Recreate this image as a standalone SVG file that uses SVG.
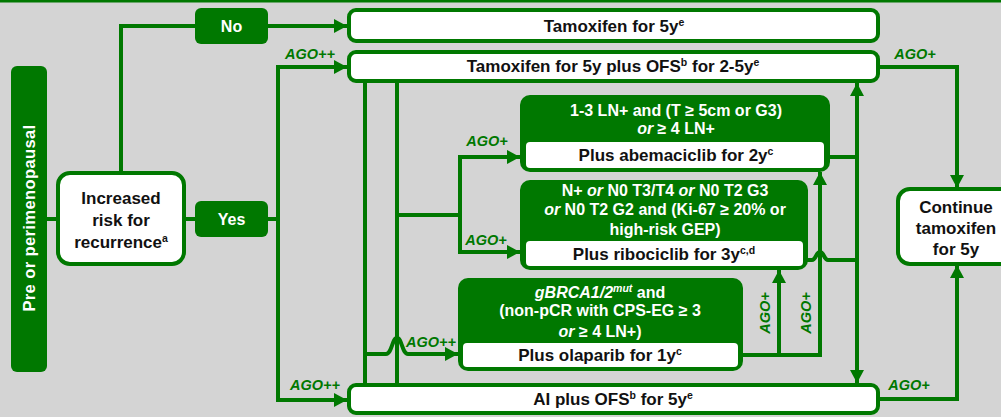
<svg xmlns="http://www.w3.org/2000/svg" width="1001" height="417" viewBox="0 0 1001 417">
<style>
.bg{fill:#d4d4d4}
.gbox{fill:#007800}
.wbox{fill:#ffffff;stroke:#007800;stroke-width:4}
.wi{fill:#ffffff}
.ln{fill:none;stroke:#007800;stroke-width:4;stroke-linejoin:miter}
.t{font-family:"Liberation Sans",Arial,sans-serif;font-weight:bold;font-size:16px;text-anchor:middle}
.tw{fill:#ffffff}
.tk{fill:#111111;font-size:17px}
.ago{font-family:"Liberation Sans",Arial,sans-serif;font-weight:bold;font-style:italic;font-size:14.5px;fill:#007800;text-anchor:middle}
.sup{font-size:10.5px}
.it{font-style:italic}
</style>
<defs>
<marker id="ah" markerUnits="userSpaceOnUse" markerWidth="14" markerHeight="14" refX="13" refY="7" orient="auto-start-reverse" viewBox="0 0 14 14">
<path d="M0,0 L13,7 L0,14 z" fill="#007800"/>
</marker>
</defs>
<rect class="bg" x="0" y="0" width="1001" height="417"/>
<rect x="0" y="0" width="1001" height="2.5" fill="#007800"/>

<g id="connectors">
<path class="ln" d="M47,219 H58"/>
<path class="ln" d="M121,173 V26 H195"/>
<path class="ln" d="M268,26 H347" marker-end="url(#ah)"/>
<path class="ln" d="M184,219 H195"/>
<path class="ln" d="M268,219 H278"/>
<path class="ln" d="M278,221 V67 H347" marker-end="url(#ah)"/>
<path class="ln" d="M278,217 V400 H347" marker-end="url(#ah)"/>
<path class="ln" d="M365,82 V384"/>
<path class="ln" d="M397,82 V384"/>
<path class="ln" d="M397,215 H460"/>
<path class="ln" d="M460,217 V157 H520" marker-end="url(#ah)"/>
<path class="ln" d="M460,213 V252 H520" marker-end="url(#ah)"/>
<path class="ln" d="M365,354 H386 C392,354 392,338 397,338 C402,338 402,354 408,354 H458" marker-end="url(#ah)"/>
<path class="ln" d="M742,355 H820 V172" marker-end="url(#ah)"/>
<path class="ln" d="M779,355 V270" marker-end="url(#ah)"/>
<path class="ln" d="M807,260 H812 C816,260 816,252 820,252 C824,252 824,260 828,260 H857"/>
<path class="ln" d="M829,157 H857"/>
<path class="ln" d="M857,83 V383" marker-start="url(#ah)" marker-end="url(#ah)"/>
<path class="ln" d="M879,67 H957 V188" marker-end="url(#ah)"/>
<path class="ln" d="M879,399 H957 V265" marker-end="url(#ah)"/>
</g>

<g id="ago-labels">
<text class="ago" x="310" y="59">AGO++</text>
<text class="ago" x="315" y="390">AGO++</text>
<text class="ago" x="915" y="59">AGO+</text>
<text class="ago" x="909" y="390">AGO+</text>
<text class="ago" x="487" y="146">AGO+</text>
<text class="ago" x="486" y="245">AGO+</text>
<text class="ago" x="431" y="347">AGO++</text>
<text class="ago" transform="translate(770,313) rotate(-90)">AGO+</text>
<text class="ago" transform="translate(811,313) rotate(-90)">AGO+</text>
</g>

<g id="premenopausal">
<rect class="gbox" x="11" y="66" width="36" height="306" rx="6"/>
<text class="t tw" transform="translate(35,218) rotate(-90)" style="font-size:16.5px;letter-spacing:0.4px">Pre or perimenopausal</text>
</g>

<g id="increased-risk">
<rect class="wbox" x="58" y="173" width="126" height="91" rx="12"/>
<text class="t tk" x="121" y="204">Increased</text>
<text class="t tk" x="121" y="226">risk for</text>
<text class="t tk" x="121" y="248">recurrence<tspan class="sup" dy="-6">a</tspan></text>
</g>

<g id="no">
<rect class="gbox" x="195" y="8" width="73" height="36" rx="6"/>
<text class="t tw" x="231.5" y="32">No</text>
</g>

<g id="yes">
<rect class="gbox" x="195" y="201" width="73" height="36" rx="6"/>
<text class="t tw" x="231.5" y="225">Yes</text>
</g>

<g id="tamoxifen">
<rect class="wbox" x="349" y="10" width="529" height="31" rx="7"/>
<text class="t tk" x="614" y="32">Tamoxifen for 5y<tspan class="sup" dy="-6">e</tspan></text>
</g>

<g id="tamoxifen-ofs">
<rect class="wbox" x="349" y="52" width="529" height="29" rx="7"/>
<text class="t tk" x="613" y="72">Tamoxifen for 5y plus OFS<tspan class="sup" dy="-6">b</tspan><tspan dy="6"> for 2-5y</tspan><tspan class="sup" dy="-6">e</tspan></text>
</g>

<g id="ai-ofs">
<rect class="wbox" x="349" y="385" width="529" height="28" rx="7"/>
<text class="t tk" x="613" y="405">AI plus OFS<tspan class="sup" dy="-6">b</tspan><tspan dy="6"> for 5y</tspan><tspan class="sup" dy="-6">e</tspan></text>
</g>

<g id="abemaciclib">
<rect class="gbox" x="520" y="95" width="310" height="77" rx="10"/>
<text class="t tw" x="676" y="116">1-3 LN+ and (T ≥ 5cm or G3)</text>
<text class="t tw" x="676" y="134"><tspan class="it">or</tspan> ≥ 4 LN+</text>
<rect class="wi" x="526" y="142" width="298" height="26" rx="4"/>
<text class="t tk" x="676" y="161">Plus abemaciclib for 2y<tspan class="sup" dy="-6">c</tspan></text>
</g>

<g id="ribociclib">
<rect class="gbox" x="520" y="180" width="288" height="90" rx="10"/>
<text class="t tw" x="665" y="196">N+ <tspan class="it">or</tspan>  N0 T3/T4 <tspan class="it">or</tspan> N0 T2 G3</text>
<text class="t tw" x="665" y="215"><tspan class="it">or</tspan> N0 T2 G2 and (Ki-67 ≥ 20% or</text>
<text class="t tw" x="665" y="235">high-risk GEP)</text>
<rect class="wi" x="526" y="241" width="277" height="25" rx="4"/>
<text class="t tk" x="664" y="260">Plus ribociclib for 3y<tspan class="sup" dy="-6">c,d</tspan></text>
</g>

<g id="olaparib">
<rect class="gbox" x="458" y="278" width="285" height="93" rx="10"/>
<text class="t tw" x="600" y="298"><tspan class="it">gBRCA1/2</tspan><tspan class="sup it" dy="-6">mut</tspan><tspan dy="6"> and</tspan></text>
<text class="t tw" x="600" y="316">(non-pCR with CPS-EG ≥ 3</text>
<text class="t tw" x="600" y="337"><tspan class="it">or</tspan>  ≥ 4 LN+)</text>
<rect class="wi" x="463" y="343" width="275" height="24" rx="4"/>
<text class="t tk" x="600" y="361">Plus olaparib for 1y<tspan class="sup" dy="-6">c</tspan></text>
</g>

<g id="continue-tamoxifen">
<rect class="wbox" x="898" y="189" width="118" height="75" rx="12"/>
<text class="t tk" x="956" y="213">Continue</text>
<text class="t tk" x="956" y="234">tamoxifen</text>
<text class="t tk" x="956" y="255">for 5y</text>
</g>
</svg>
